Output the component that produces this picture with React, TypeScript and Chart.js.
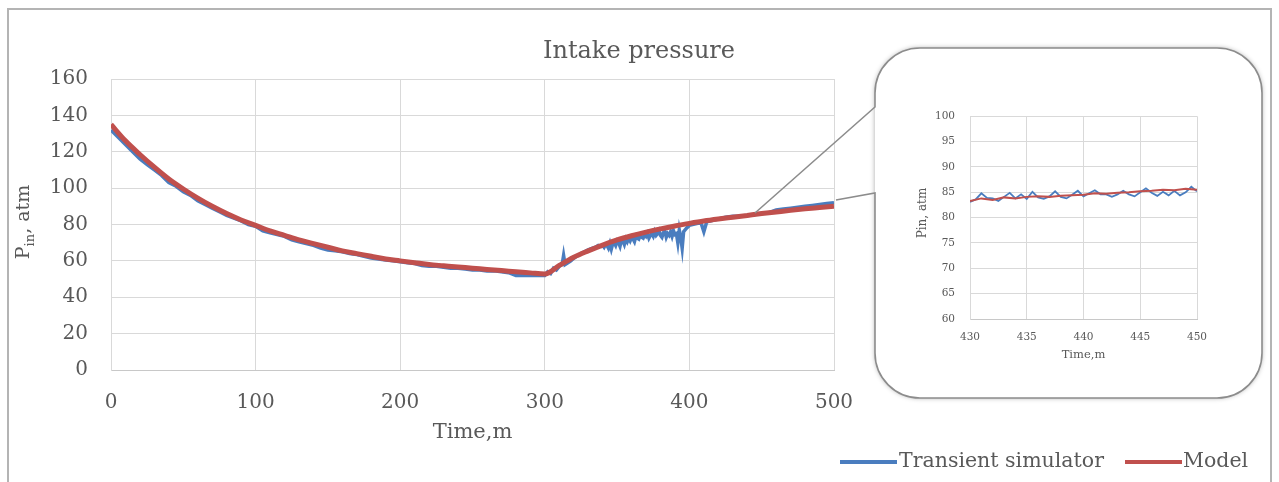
import React, { useEffect, useRef } from "react";
import { Chart, registerables } from "chart.js";

Chart.register(...registerables);

// ---------- data ----------
const chartTitle = "Intake pressure";
const seriesNames = ["Transient simulator", "Model"];
const xAxisTitle = "Time,m";

const modelTime = [
  0, 10, 20, 30, 40, 50, 60, 70, 80, 90, 100, 110, 120, 130, 140, 150, 160, 170, 180, 190, 200,
  210, 220, 230, 240, 250, 260, 270, 280, 290, 300, 310, 320, 330, 340, 350, 360, 370, 380, 390,
  400, 410, 420, 430, 440, 450, 460, 470, 480, 490, 500,
];
const modelPressure = [
  135, 126, 118.5, 111.5, 105, 99.5, 94.5, 90, 86, 82.5, 79.5, 76.5, 74, 71.5, 69.5, 67.5, 65.5, 64,
  62.5, 61, 60, 59, 58, 57.3, 56.6, 56, 55.3, 54.7, 54, 53.4, 52.8, 57.5, 62, 65.5, 68.7, 71.5,
  73.8, 75.8, 77.6, 79.2, 80.6, 81.9, 83, 84, 85, 86, 86.9, 87.8, 88.6, 89.3, 90,
];

// transient simulator: decline (0..300, every 5 min)
const simDeclineTime = [
  0, 5, 10, 15, 20, 25, 30, 35, 40, 45, 50, 55, 60, 65, 70, 75, 80, 85, 90, 95, 100, 105, 110, 115,
  120, 125, 130, 135, 140, 145, 150, 155, 160, 165, 170, 175, 180, 185, 190, 195, 200, 205, 210,
  215, 220, 225, 230, 235, 240, 245, 250, 255, 260, 265, 270, 275, 280, 285, 290, 295, 300,
];
const simDeclinePressure = [
  132, 128, 124, 120, 116, 113, 110, 107, 103, 101, 98, 96, 93, 91, 89, 87, 85, 83.5, 82, 80, 79,
  76.5, 75.5, 74.5, 73.5, 71.5, 70.5, 69.5, 68.5, 67, 66, 65.5, 65, 64, 63.5, 62.5, 61.5, 61, 60.5,
  60, 59.5, 59, 58.5, 57.5, 57, 57, 56.5, 56, 56, 55.5, 55, 55, 54.5, 54.5, 54, 53.5, 52, 52, 52,
  52, 52,
];
// transient simulator: build-up start (302..339)
const simRiseTime = [302, 304, 306, 308, 310, 312, 313, 314, 316, 318, 320, 325, 330, 333, 335, 337, 339];
const simRisePressure = [54, 53, 56, 55, 57, 58, 63, 58, 59, 60, 61.5, 64, 66, 67, 67.5, 68.5, 68];
// transient simulator: noisy section (340..396, every minute)
const simNoisyTime = [
  340, 341, 342, 343, 344, 345, 346, 347, 348, 349, 350, 351, 352, 353, 354, 355, 356, 357, 358,
  359, 360, 361, 362, 363, 364, 365, 366, 367, 368, 369, 370, 371, 372, 373, 374, 375, 376, 377,
  378, 379, 380, 381, 382, 383, 384, 385, 386, 387, 388, 389, 390, 391, 392, 393, 394, 395, 396,
];
const simNoisyPressure = [
  68.5, 67.5, 69, 68.5, 67, 69.5, 66.5, 69.5, 70, 68.5, 71, 70, 68, 71.5, 71, 69, 72, 70.5, 72.5,
  71, 73, 72, 70.5, 73.5, 72.5, 72, 74, 73, 72.5, 74.5, 73.5, 75, 72.5, 74, 75, 73.5, 76, 74,
  75, 76.5, 74, 73, 75.5, 76.5, 73, 75, 74, 76, 73.5, 76.5, 74.5, 75, 70, 77, 73, 67, 76,
];
// transient simulator: late section (398..500)
const simLateTime = [
  398, 400, 405, 408, 410, 412, 415, 420, 425, 430, 435, 440, 445, 450, 455, 460, 465, 470, 475,
  480, 485, 490, 495, 500,
];
const simLatePressure = [
  78, 79.5, 80.5, 81, 76, 81.5, 82, 83, 84, 84.5, 84.5, 85, 85.5, 86, 86.5, 88, 88.5, 89, 89.5,
  90, 90.5, 91, 91.5, 92,
];

// zoomed inset (430..450 min)
const zoomSimTime = [
  430, 430.5, 431, 431.5, 432, 432.5, 433, 433.5, 434, 434.5, 435, 435.5, 436, 436.5, 437, 437.5,
  438, 438.5, 439, 439.5, 440, 440.5, 441, 441.5, 442, 442.5, 443, 443.5, 444, 444.5, 445, 445.5,
  446, 446.5, 447, 447.5, 448, 448.5, 449, 449.5, 450,
];
const zoomSimPressure = [
  83.1, 83.6, 84.8, 83.9, 83.8, 83.3, 84.1, 84.9, 83.8, 84.6, 83.7, 85.1, 84.0, 83.7, 84.2, 85.2,
  84.1, 83.8, 84.5, 85.3, 84.2, 84.8, 85.4, 84.6, 84.6, 84.1, 84.6, 85.3, 84.6, 84.2, 85.0, 85.8,
  84.9, 84.3, 85.1, 84.4, 85.3, 84.4, 85.0, 86.1, 85.2,
];
const zoomModelTime = [
  430, 431, 432, 433, 434, 435, 436, 437, 438, 439, 440, 441, 442, 443, 444, 445, 446, 447, 448,
  449, 450,
];
const zoomModelPressure = [
  83.3, 83.8, 83.5, 84.0, 83.8, 84.1, 84.2, 84.1, 84.3, 84.4, 84.5, 84.8, 84.7, 84.9, 85.0, 85.2,
  85.3, 85.5, 85.4, 85.7, 85.5,
];

// ---------- styles ----------
const FONT = "'DejaVu Serif', 'Liberation Serif', serif";
const TEXT = "#595959";
const GRID = "#d9d9d9";
const BLUE = "#4a7dbf";
const RED = "#c0504d";

const toXY = (xs: number[], ys: number[]) => xs.map((x, i) => ({ x, y: ys[i] }));

const simData = [
  ...toXY(simDeclineTime, simDeclinePressure),
  ...toXY(simRiseTime, simRisePressure),
  ...toXY(simNoisyTime, simNoisyPressure),
  ...toXY(simLateTime, simLatePressure),
];

const mainDecor = {
  id: "mainDecor",
  beforeDraw(chart: any) {
    const ctx = chart.ctx;
    ctx.save();
    ctx.fillStyle = "#ffffff";
    ctx.fillRect(0, 0, chart.width, chart.height);
    ctx.restore();
  },
  afterDraw(chart: any) {
    const ctx = chart.ctx as CanvasRenderingContext2D;
    const area = chart.chartArea;
    ctx.save();
    // outer frame
    ctx.strokeStyle = "#b4b4b4";
    ctx.lineWidth = 2;
    ctx.strokeRect(8, 9, 1263, 490);

    // title
    ctx.fillStyle = TEXT;
    ctx.font = `24px ${FONT}`;
    ctx.textAlign = "center";
    ctx.textBaseline = "alphabetic";
    ctx.fillText(chartTitle, 639, 58);

    // x axis title
    ctx.font = `21px ${FONT}`;
    ctx.fillText(xAxisTitle, (area.left + area.right) / 2, 438);

    // y axis title with subscript
    ctx.save();
    ctx.translate(29, 222);
    ctx.rotate(-Math.PI / 2);
    ctx.textAlign = "left";
    const big = `19px ${FONT}`;
    const small = `13px ${FONT}`;
    ctx.font = big;
    const wP = ctx.measureText("P").width;
    const wRest = ctx.measureText(", atm").width;
    ctx.font = small;
    const wIn = ctx.measureText("in").width;
    let x0 = -(wP + wIn + wRest) / 2;
    ctx.font = big;
    ctx.fillText("P", x0, 0);
    ctx.font = small;
    ctx.fillText("in", x0 + wP, 5);
    ctx.font = big;
    ctx.fillText(", atm", x0 + wP + wIn, 0);
    ctx.restore();

    // legend
    ctx.lineWidth = 4;
    ctx.lineCap = "butt";
    ctx.strokeStyle = BLUE;
    ctx.beginPath();
    ctx.moveTo(840, 462);
    ctx.lineTo(897, 462);
    ctx.stroke();
    ctx.strokeStyle = RED;
    ctx.beginPath();
    ctx.moveTo(1125, 462);
    ctx.lineTo(1182, 462);
    ctx.stroke();
    ctx.font = `20.5px ${FONT}`;
    ctx.textAlign = "left";
    ctx.fillStyle = TEXT;
    ctx.fillText(seriesNames[0], 899, 467);
    ctx.fillText(seriesNames[1], 1183, 467);

    // callout box
    const L = 875, R = 1262, T = 48, B = 398, r = 45;
    ctx.save();
    ctx.shadowColor = "rgba(0,0,0,0.35)";
    ctx.shadowBlur = 5;
    ctx.fillStyle = "#ffffff";
    ctx.beginPath();
    ctx.moveTo(L, T + r);
    ctx.arcTo(L, T, L + r, T, r);
    ctx.lineTo(R - r, T);
    ctx.arcTo(R, T, R, T + r, r);
    ctx.lineTo(R, B - r);
    ctx.arcTo(R, B, R - r, B, r);
    ctx.lineTo(L + r, B);
    ctx.arcTo(L, B, L, B - r, r);
    ctx.closePath();
    ctx.fill();
    ctx.restore();

    ctx.strokeStyle = "#8c8c8c";
    ctx.lineWidth = 1.6;
    ctx.beginPath();
    ctx.moveTo(836, 200);
    ctx.lineTo(L, 193);
    ctx.lineTo(L, B - r);
    ctx.arcTo(L, B, L + r, B, r);
    ctx.lineTo(R - r, B);
    ctx.arcTo(R, B, R, B - r, r);
    ctx.lineTo(R, T + r);
    ctx.arcTo(R, T, R - r, T, r);
    ctx.lineTo(L + r, T);
    ctx.arcTo(L, T, L, T + r, r);
    ctx.lineTo(L, 107);
    ctx.lineTo(755, 213);
    ctx.stroke();
    ctx.restore();
  },
};

const insetDecor = {
  id: "insetDecor",
  afterDraw(chart: any) {
    const ctx = chart.ctx as CanvasRenderingContext2D;
    const area = chart.chartArea;
    ctx.save();
    ctx.fillStyle = TEXT;
    ctx.font = `11.5px ${FONT}`;
    ctx.textAlign = "center";
    ctx.textBaseline = "middle";
    ctx.fillText(xAxisTitle, (area.left + area.right) / 2, 260);
    ctx.translate(33, 118);
    ctx.rotate(-Math.PI / 2);
    ctx.font = `12px ${FONT}`;
    ctx.fillText("Pin, atm", 0, 0);
    ctx.restore();
  },
};

export default function App() {
  const mainRef = useRef<HTMLCanvasElement | null>(null);
  const insetRef = useRef<HTMLCanvasElement | null>(null);

  useEffect(() => {
    Chart.defaults.font.family = FONT;
    Chart.defaults.color = TEXT;

    const main = new Chart(mainRef.current as HTMLCanvasElement, {
      type: "line",
      data: {
        datasets: [
          {
            label: seriesNames[1],
            data: toXY(modelTime, modelPressure),
            borderColor: RED,
            backgroundColor: RED,
            borderWidth: 5,
            pointRadius: 0,
            cubicInterpolationMode: "monotone",
            order: 0,
          },
          {
            label: seriesNames[0],
            data: simData,
            borderColor: BLUE,
            backgroundColor: BLUE,
            borderWidth: 3.5,
            pointRadius: 0,
            tension: 0,
            order: 1,
          },
        ],
      },
      options: {
        responsive: false,
        animation: false,
        events: [],
        layout: { padding: { left: 36, right: 445, top: 79, bottom: 72 } },
        plugins: { legend: { display: false }, title: { display: false }, tooltip: { enabled: false } },
        scales: {
          x: {
            type: "linear",
            min: 0,
            max: 500,
            afterFit: (s: any) => {
              s.height = 40;
            },
            ticks: { stepSize: 100, font: { family: FONT, size: 20 }, color: TEXT, padding: 21, maxRotation: 0 },
            grid: { color: GRID, drawTicks: false },
            border: { color: "#c8c8c8" },
          },
          y: {
            min: 0,
            max: 160,
            afterFit: (s: any) => {
              s.width = 75;
            },
            ticks: { stepSize: 20, font: { family: FONT, size: 20 }, color: TEXT, padding: 23 },
            grid: { color: GRID, drawTicks: false },
            border: { color: GRID },
          },
        },
      },
      plugins: [mainDecor],
    } as any);

    const inset = new Chart(insetRef.current as HTMLCanvasElement, {
      type: "line",
      data: {
        datasets: [
          {
            label: seriesNames[1],
            data: toXY(zoomModelTime, zoomModelPressure),
            borderColor: RED,
            borderWidth: 2,
            pointRadius: 0,
            tension: 0,
            order: 0,
          },
          {
            label: seriesNames[0],
            data: toXY(zoomSimTime, zoomSimPressure),
            borderColor: BLUE,
            borderWidth: 1.8,
            pointRadius: 0,
            tension: 0,
            order: 1,
          },
        ],
      },
      options: {
        responsive: false,
        animation: false,
        events: [],
        layout: { padding: { left: 30, right: 23, top: 12, bottom: 26 } },
        plugins: { legend: { display: false }, title: { display: false }, tooltip: { enabled: false } },
        scales: {
          x: {
            type: "linear",
            min: 430,
            max: 450,
            afterFit: (s: any) => {
              s.height = 30;
            },
            ticks: { stepSize: 5, font: { family: FONT, size: 10.5 }, color: TEXT, padding: 12, maxRotation: 0 },
            grid: { color: GRID, drawTicks: false },
            border: { color: "#c8c8c8" },
          },
          y: {
            min: 60,
            max: 100,
            afterFit: (s: any) => {
              s.width = 50;
            },
            ticks: { stepSize: 5, font: { family: FONT, size: 10.5 }, color: TEXT, padding: 15 },
            grid: { color: GRID, drawTicks: false },
            border: { color: GRID },
          },
        },
      },
      plugins: [insetDecor],
    } as any);

    return () => {
      main.destroy();
      inset.destroy();
    };
  }, []);

  return (
    <div style={{ position: "absolute", left: 0, top: 0, width: 1279, height: 482, overflow: "hidden", background: "#fff" }}>
      <canvas
        ref={mainRef}
        width={1279}
        height={482}
        style={{ position: "absolute", left: 0, top: 0, width: 1279, height: 482 }}
      />
      <canvas
        ref={insetRef}
        width={330}
        height={280}
        style={{ position: "absolute", left: 890, top: 95, width: 330, height: 280 }}
      />
    </div>
  );
}
